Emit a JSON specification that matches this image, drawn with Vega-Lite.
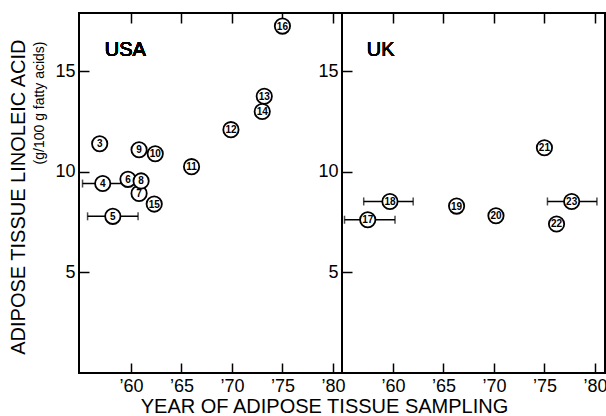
{
  "$schema": "https://vega.github.io/schema/vega-lite/v6.json",
  "autosize": {"type": "pad"},
  "padding": {"left": 6, "top": 11, "right": 0, "bottom": 0},
  "background": "white",
  "bounds": "flush",
  "spacing": 0,
  "config": {
    "font": "Liberation Sans",
    "view": {"stroke": "black", "strokeWidth": 2},
    "axis": {
      "domain": false,
      "grid": false,
      "zindex": 1,
      "tickColor": "black",
      "tickWidth": 1.5,
      "tickSize": -10,
      "labelPadding": 14,
      "labelFont": "Liberation Sans",
      "labelFontSize": 18,
      "labelColor": "black",
      "titleColor": "black",
      "titleFont": "Liberation Sans",
      "titleFontWeight": "normal"
    }
  },
  "datasets": {
    "pts": [
      {"country": "USA", "id": "3", "year": 56.9, "la": 11.4},
      {"country": "USA", "id": "4", "year": 57.2, "la": 9.42, "lo": 55.2, "hi": 59.5},
      {"country": "USA", "id": "5", "year": 58.2, "la": 7.79, "lo": 55.7, "hi": 60.7},
      {"country": "USA", "id": "6", "year": 59.7, "la": 9.63},
      {"country": "USA", "id": "7", "year": 60.8, "la": 8.93},
      {"country": "USA", "id": "8", "year": 61.0, "la": 9.55},
      {"country": "USA", "id": "9", "year": 60.8, "la": 11.1},
      {"country": "USA", "id": "10", "year": 62.4, "la": 10.9},
      {"country": "USA", "id": "11", "year": 66.0, "la": 10.26},
      {"country": "USA", "id": "12", "year": 69.9, "la": 12.1},
      {"country": "USA", "id": "13", "year": 73.2, "la": 13.76},
      {"country": "USA", "id": "14", "year": 73.0, "la": 13.0},
      {"country": "USA", "id": "15", "year": 62.3, "la": 8.4},
      {"country": "USA", "id": "16", "year": 75.0, "la": 17.25},
      {"country": "UK", "id": "17", "year": 57.5, "la": 7.62, "lo": 55.2, "hi": 60.2},
      {"country": "UK", "id": "18", "year": 59.7, "la": 8.53, "lo": 57.1, "hi": 62.0},
      {"country": "UK", "id": "19", "year": 66.3, "la": 8.3},
      {"country": "UK", "id": "20", "year": 70.2, "la": 7.82},
      {"country": "UK", "id": "21", "year": 75.0, "la": 11.2},
      {"country": "UK", "id": "22", "year": 76.2, "la": 7.41},
      {"country": "UK", "id": "23", "year": 77.7, "la": 8.53, "lo": 75.3, "hi": 80.2}
    ]
  },
  "hconcat": [
    {
      "width": 263,
      "height": 360,
      "data": {"name": "pts"},
      "transform": [{"filter": "datum.country === 'USA'"}],
      "resolve": {"axis": {"x": "independent", "y": "independent"}},
      "layer": [
        {
          "transform": [{"filter": "isValid(datum.lo)"}],
          "mark": {"type": "rule", "color": "black", "strokeWidth": 1.5},
          "encoding": {
            "x": {"field": "lo", "type": "quantitative", "scale": {"domain": [54.85, 80.9]}, "axis": null},
            "x2": {"field": "hi"},
            "y": {"field": "la", "type": "quantitative", "scale": {"domain": [0, 17.9]}, "axis": null}
          }
        },
        {
          "transform": [{"filter": "isValid(datum.lo)"}],
          "mark": {"type": "tick", "orient": "vertical", "color": "black", "size": 8, "thickness": 1.5},
          "encoding": {
            "x": {"field": "lo", "type": "quantitative", "scale": {"domain": [54.85, 80.9]}, "axis": null},
            "y": {"field": "la", "type": "quantitative", "scale": {"domain": [0, 17.9]}, "axis": null}
          }
        },
        {
          "transform": [{"filter": "isValid(datum.lo)"}],
          "mark": {"type": "tick", "orient": "vertical", "color": "black", "size": 8, "thickness": 1.5},
          "encoding": {
            "x": {"field": "hi", "type": "quantitative", "scale": {"domain": [54.85, 80.9]}, "axis": null},
            "y": {"field": "la", "type": "quantitative", "scale": {"domain": [0, 17.9]}, "axis": null}
          }
        },
        {
          "mark": {"type": "point", "shape": "circle", "filled": true, "fill": "white", "stroke": "black", "strokeWidth": 1.8, "size": 235, "opacity": 1},
          "encoding": {
            "x": {"field": "year", "type": "quantitative", "scale": {"domain": [54.85, 80.9]},
              "axis": {"orient": "bottom", "values": [60, 65, 70, 75, 80], "labelExpr": "'\u2019' + datum.value",
                "title": "YEAR OF ADIPOSE TISSUE SAMPLING", "titleFontSize": 20, "titleX": 245, "titleY": 33, "titleBaseline": "middle", "titleAlign": "center"}},
            "y": {"field": "la", "type": "quantitative", "scale": {"domain": [0, 17.9]},
              "axis": {"orient": "left", "values": [5, 10, 15], "title": "ADIPOSE TISSUE LINOLEIC ACID", "titleFontSize": 20,
                "titleAngle": -90, "titleAlign": "right", "titleBaseline": "middle", "titleX": -61, "titleY": 26}}
          }
        },
        {
          "mark": {"type": "text", "fontSize": 10, "fontWeight": "bold", "color": "black", "baseline": "middle", "dy": 0.5},
          "encoding": {
            "x": {"field": "year", "type": "quantitative", "scale": {"domain": [54.85, 80.9]}, "axis": null},
            "y": {"field": "la", "type": "quantitative", "scale": {"domain": [0, 17.9]}, "axis": null},
            "text": {"field": "id"}
          }
        },
        {
          "mark": {"type": "point", "opacity": 0},
          "encoding": {
            "x": {"field": "year", "type": "quantitative", "scale": {"domain": [54.85, 80.9]},
              "axis": {"orient": "top", "values": [60, 65, 70, 75, 80], "labels": false, "title": null}},
            "y": {"field": "la", "type": "quantitative", "scale": {"domain": [0, 17.9]},
              "axis": {"orient": "left", "labels": false, "ticks": false, "title": "(g/100 g fatty acids)", "titleFontSize": 14,
                "titleAngle": -90, "titleAlign": "right", "titleBaseline": "middle", "titleX": -40, "titleY": 28}}
          }
        },
        {
          "mark": {"type": "text", "fontSize": 20, "fontWeight": "normal", "align": "left", "baseline": "middle", "color": "black"},
          "encoding": {
            "x": {"datum": 57.4, "type": "quantitative", "scale": {"domain": [54.85, 80.9]}, "axis": null},
            "y": {"datum": 16.05, "type": "quantitative", "scale": {"domain": [0, 17.9]}, "axis": null},
            "text": {"value": "USA"}
          }
        }
      ]
    },
    {
      "width": 263,
      "height": 360,
      "data": {"name": "pts"},
      "transform": [{"filter": "datum.country === 'UK'"}],
      "resolve": {"axis": {"x": "independent", "y": "independent"}},
      "layer": [
        {
          "transform": [{"filter": "isValid(datum.lo)"}],
          "mark": {"type": "rule", "color": "black", "strokeWidth": 1.5},
          "encoding": {
            "x": {"field": "lo", "type": "quantitative", "scale": {"domain": [54.95, 81.0]}, "axis": null},
            "x2": {"field": "hi"},
            "y": {"field": "la", "type": "quantitative", "scale": {"domain": [0, 17.9]}, "axis": null}
          }
        },
        {
          "transform": [{"filter": "isValid(datum.lo)"}],
          "mark": {"type": "tick", "orient": "vertical", "color": "black", "size": 8, "thickness": 1.5},
          "encoding": {
            "x": {"field": "lo", "type": "quantitative", "scale": {"domain": [54.95, 81.0]}, "axis": null},
            "y": {"field": "la", "type": "quantitative", "scale": {"domain": [0, 17.9]}, "axis": null}
          }
        },
        {
          "transform": [{"filter": "isValid(datum.lo)"}],
          "mark": {"type": "tick", "orient": "vertical", "color": "black", "size": 8, "thickness": 1.5},
          "encoding": {
            "x": {"field": "hi", "type": "quantitative", "scale": {"domain": [54.95, 81.0]}, "axis": null},
            "y": {"field": "la", "type": "quantitative", "scale": {"domain": [0, 17.9]}, "axis": null}
          }
        },
        {
          "mark": {"type": "point", "shape": "circle", "filled": true, "fill": "white", "stroke": "black", "strokeWidth": 1.8, "size": 235, "opacity": 1},
          "encoding": {
            "x": {"field": "year", "type": "quantitative", "scale": {"domain": [54.95, 81.0]},
              "axis": {"orient": "bottom", "values": [60, 65, 70, 75, 80], "labelExpr": "'\u2019' + datum.value", "title": null}},
            "y": {"field": "la", "type": "quantitative", "scale": {"domain": [0, 17.9]},
              "axis": {"orient": "left", "values": [5, 10, 15], "title": null}}
          }
        },
        {
          "mark": {"type": "text", "fontSize": 10, "fontWeight": "bold", "color": "black", "baseline": "middle", "dy": 0.5},
          "encoding": {
            "x": {"field": "year", "type": "quantitative", "scale": {"domain": [54.95, 81.0]}, "axis": null},
            "y": {"field": "la", "type": "quantitative", "scale": {"domain": [0, 17.9]}, "axis": null},
            "text": {"field": "id"}
          }
        },
        {
          "mark": {"type": "point", "opacity": 0},
          "encoding": {
            "x": {"field": "year", "type": "quantitative", "scale": {"domain": [54.95, 81.0]},
              "axis": {"orient": "top", "values": [60, 65, 70, 75, 80], "labels": false, "title": null}},
            "y": {"field": "la", "type": "quantitative", "scale": {"domain": [0, 17.9]}, "axis": null}
          }
        },
        {
          "mark": {"type": "text", "fontSize": 20, "fontWeight": "normal", "align": "left", "baseline": "middle", "color": "black"},
          "encoding": {
            "x": {"datum": 57.4, "type": "quantitative", "scale": {"domain": [54.95, 81.0]}, "axis": null},
            "y": {"datum": 16.05, "type": "quantitative", "scale": {"domain": [0, 17.9]}, "axis": null},
            "text": {"value": "UK"}
          }
        }
      ]
    }
  ]
}
